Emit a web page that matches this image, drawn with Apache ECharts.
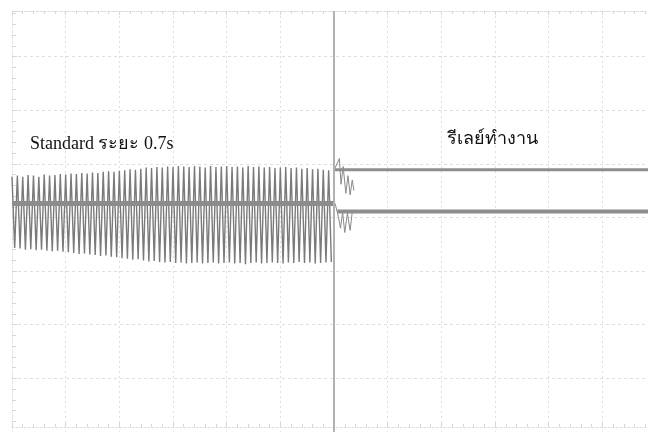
<!DOCTYPE html>
<html>
<head>
<meta charset="utf-8">
<script src="https://cdn.jsdelivr.net/npm/echarts@6/dist/echarts.min.js"></script>
<style>
  html, body { margin: 0; padding: 0; background: #fff; }
  #chart { width: 648px; height: 432px; }
</style>
</head>
<body>
<div id="chart"></div>
<script>
// Time axis in divisions (trigger at 0), vertical axis in divisions (screen centre at 0).
const cycleStart = -6;      // first captured cycle, div
const cyclePeriod = 0.1;    // one cycle every 0.1 div

// CH1 positive peaks, one per cycle, before the relay trips
const ch1PeakHigh = [
  0.76, 0.78, 0.76, 0.79, 0.78, 0.76, 0.80, 0.78, 0.79, 0.81,
  0.80, 0.82, 0.81, 0.83, 0.82, 0.84, 0.83, 0.85, 0.86, 0.85,
  0.87, 0.88, 0.90, 0.89, 0.91, 0.93, 0.92, 0.94, 0.93, 0.95,
  0.94, 0.96, 0.95, 0.94, 0.96, 0.95, 0.93, 0.96, 0.94, 0.95,
  0.96, 0.94, 0.95, 0.93, 0.96, 0.94, 0.95, 0.93, 0.94, 0.92,
  0.93, 0.94, 0.92, 0.93, 0.91, 0.92, 0.90, 0.91, 0.89, 0.88
];
// CH1 negative peaks, one per cycle
const ch1PeakLow = [
  -0.57, -0.58, -0.60, -0.59, -0.61, -0.60, -0.62, -0.63, -0.62, -0.64,
  -0.65, -0.66, -0.68, -0.67, -0.69, -0.70, -0.72, -0.71, -0.73, -0.74,
  -0.76, -0.77, -0.79, -0.78, -0.80, -0.82, -0.81, -0.83, -0.84, -0.83,
  -0.85, -0.84, -0.86, -0.85, -0.84, -0.86, -0.85, -0.84, -0.86, -0.85,
  -0.84, -0.86, -0.85, -0.87, -0.85, -0.84, -0.86, -0.85, -0.84, -0.85,
  -0.86, -0.84, -0.85, -0.83, -0.85, -0.84, -0.86, -0.85, -0.84, -0.83
];
// Switching transient right after the trip [time, level]
const ch1Transient = [
  [0.00, 0.88], [0.10, 1.10], [0.13, 0.62], [0.17, 0.95], [0.22, 0.45],
  [0.26, 0.78], [0.30, 0.42], [0.34, 0.70], [0.37, 0.50]
];
const ch2Transient = [
  [0.02, 0.26], [0.08, 0.02], [0.12, -0.20], [0.16, 0.10], [0.20, -0.28],
  [0.25, 0.08], [0.30, -0.24], [0.34, 0.11]
];
// Levels (div)
const ch1Settled = 0.89;
const ch2Before = 0.26;
const ch2After = 0.11;
const tripTime = 0;
const screenEnd = 5.85;
const screenTop = 3.85;

// Labels
const labelLeft = 'Standard ระยะ 0.7s';
const labelRight = 'รีเลย์ทำงาน';

// CH1 waveform: alternate the positive and negative peak of each cycle
const ch1Wave = [];
for (let i = 0; i < ch1PeakHigh.length; i++) {
  const t = cycleStart + i * cyclePeriod;
  ch1Wave.push([t, ch1PeakHigh[i]]);
  ch1Wave.push([t + cyclePeriod / 2, ch1PeakLow[i]]);
}

const gridColor = '#dedede';
const tickColor = '#d6d6d6';

const chart = echarts.init(document.getElementById('chart'), null, { renderer: 'canvas' });
chart.setOption({
  animation: false,
  backgroundColor: '#ffffff',
  grid: { left: 12, right: 0, top: 11, bottom: -3 },
  xAxis: [
    {
      type: 'value', min: -6, max: screenEnd, interval: 1,
      position: 'bottom', offset: -5,
      axisLine: { show: true, onZero: false, lineStyle: { color: gridColor, type: [2, 2] } },
      axisTick: { show: true, inside: true, length: 4, lineStyle: { color: tickColor } },
      minorTick: { show: true, splitNumber: 5, length: 3, lineStyle: { color: tickColor } },
      axisLabel: { show: false },
      splitLine: { show: true, lineStyle: { color: gridColor, type: [2, 3] } }
    },
    {
      type: 'value', min: -6, max: screenEnd, interval: 1,
      position: 'top',
      axisLine: { show: true, onZero: false, lineStyle: { color: gridColor, type: [2, 2] } },
      axisTick: { show: true, inside: true, length: 4, lineStyle: { color: tickColor } },
      minorTick: { show: true, splitNumber: 5, length: 3, lineStyle: { color: tickColor } },
      axisLabel: { show: false },
      splitLine: { show: false }
    }
  ],
  yAxis: {
    type: 'value', min: -4, max: screenTop, interval: 1,
    axisLine: { show: true, onZero: false, lineStyle: { color: '#e6e6e6', type: [2, 2] } },
    axisTick: { show: true, inside: true, length: 5, lineStyle: { color: tickColor } },
    minorTick: { show: true, splitNumber: 5, length: 4, lineStyle: { color: tickColor } },
    axisLabel: { show: false },
    splitLine: { show: true, lineStyle: { color: gridColor, type: [3, 3] } }
  },
  series: [
    {
      name: 'CH1', type: 'line', data: ch1Wave, showSymbol: false, symbol: 'none',
      lineStyle: { color: '#7a7a7a', width: 1.4 },
      markLine: {
        silent: true, symbol: 'none', label: { show: false },
        lineStyle: { color: '#b2b2b2', width: 2, type: 'solid' },
        data: [{ xAxis: tripTime }]
      }
    },
    {
      name: 'CH1 transient', type: 'line', data: ch1Transient, symbol: 'none',
      lineStyle: { color: '#8a8a8a', width: 1 }
    },
    {
      name: 'CH1 settled', type: 'line', symbol: 'none',
      data: [[tripTime, ch1Settled], [screenEnd, ch1Settled]],
      lineStyle: { color: '#8e8e8e', width: 3 }
    },
    {
      name: 'CH2', type: 'line', symbol: 'none',
      data: [[cycleStart, ch2Before], [tripTime + 0.02, ch2Before]],
      lineStyle: { color: '#8c8c8c', width: 5 }
    },
    {
      name: 'CH2 transient', type: 'line', data: ch2Transient, symbol: 'none',
      lineStyle: { color: '#8a8a8a', width: 1 }
    },
    {
      name: 'CH2 settled', type: 'line', symbol: 'none',
      data: [[0.06, ch2After], [screenEnd, ch2After]],
      lineStyle: { color: '#8e8e8e', width: 4 }
    }
  ],
  graphic: [
    {
      type: 'text', left: 30, top: 135,
      style: { text: labelLeft, font: '18px "Liberation Serif", serif', fill: '#111' }
    },
    {
      type: 'text', left: 447, top: 130,
      style: { text: labelRight, font: '18px "Liberation Serif", serif', fill: '#111' }
    }
  ]
});
</script>
</body>
</html>
